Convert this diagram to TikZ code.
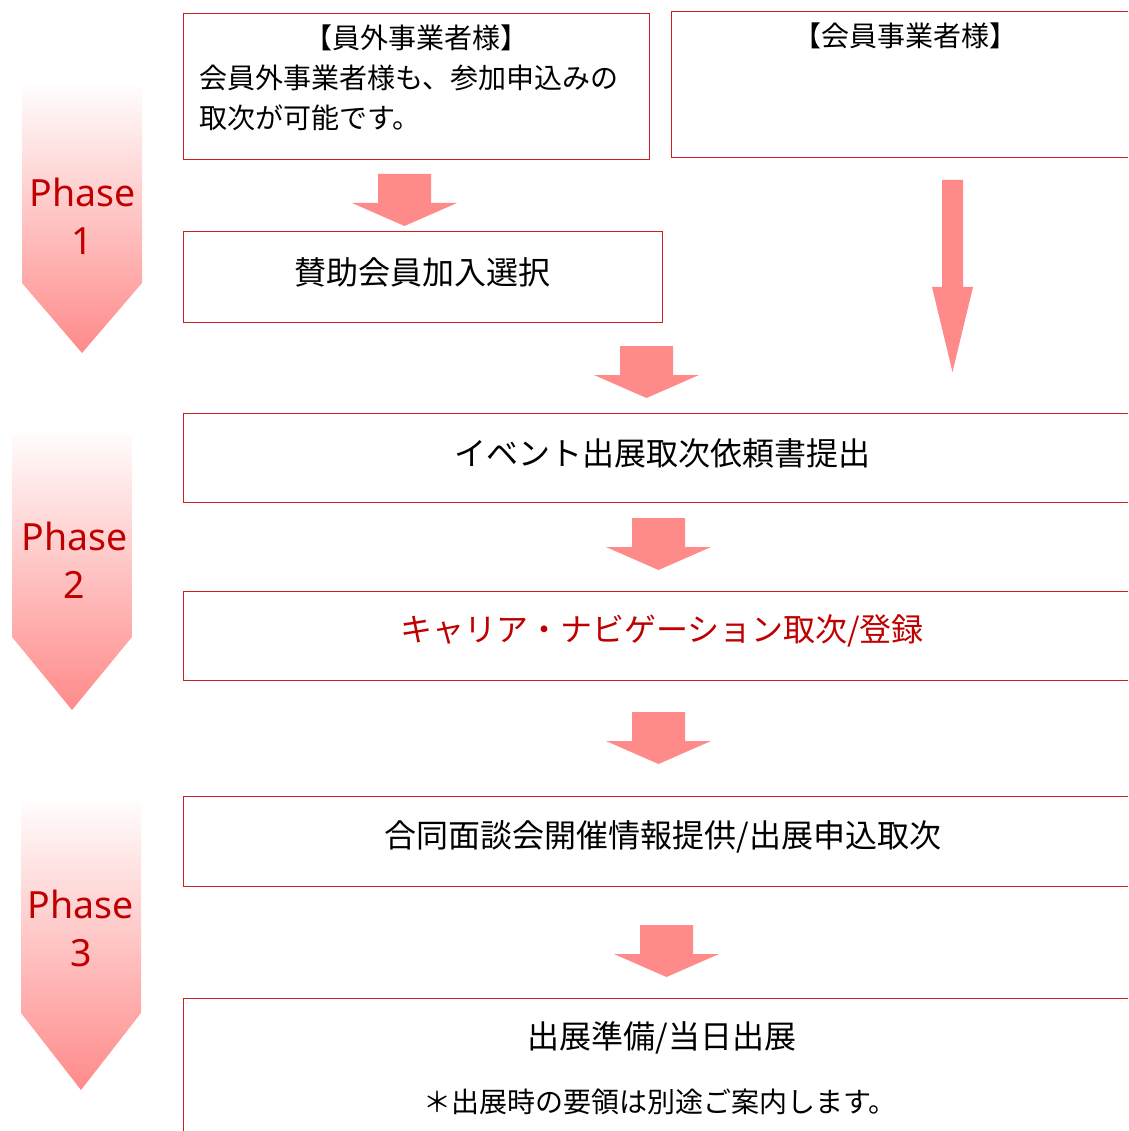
\documentclass[tikz,border=0pt]{standalone}
\usepackage{fontspec}
\setmainfont{Noto Sans CJK JP}
\newfontfamily\phasefont{Noto Sans}
\definecolor{apink}{HTML}{FF8A8A}
\definecolor{boxred}{RGB}{208,28,28}
\definecolor{txtred}{RGB}{192,0,0}
\tikzset{
  flowbox/.style={draw=boxred, line width=1pt, inner sep=0pt, rectangle},
  boxtext/.style={inner sep=0pt, font=\fontsize{32}{38}\selectfont},
  smalltext/.style={inner sep=0pt, font=\fontsize{28}{34}\selectfont},
  phasetext/.style={inner sep=0pt, align=center, text=txtred, font=\phasefont\fontsize{37.5}{48}\selectfont},
}
% block arrow: cx, shaft half width, head half width, ytop, yhead, ytip
\newcommand{\blockarr}[6]{%
  \fill[apink] ({#1-#2},#4) -- ({#1+#2},#4) -- ({#1+#2},#5) -- ({#1+#3},#5)
    -- (#1,#6) -- ({#1-#3},#5) -- ({#1-#2},#5) -- cycle;}
% phase arrow: xl, xr, ytop, yshoulder, ytip
\newcommand{\phasearr}[5]{%
  \shade[top color=white, bottom color=apink] (#1,#3) -- (#2,#3) -- (#2,#4)
    -- ({(#1+#2)/2},#5) -- (#1,#4) -- cycle;}
\begin{document}
\begin{tikzpicture}[x=1pt, y=-1pt]
\useasboundingbox (0,0) rectangle (1128,1131);
\clip (0,0) rectangle (1128,1131);

% phase arrows
\phasearr{22}{142}{80}{283}{353}
\phasearr{12}{132}{427}{637}{710}
\phasearr{21}{141}{795}{1013}{1090}
\node[phasetext] (ph1) at (82.5,216) {Phase\\1};
\node[phasetext] (ph2) at (74.5,560) {Phase\\2};
\node[phasetext] (ph3) at (81,928) {Phase\\3};

% boxes
\node[flowbox, minimum width=466pt, minimum height=146pt] (boxA) at (416,87) {};
\node[flowbox, minimum width=468pt, minimum height=146pt] (boxB) at (905,85) {};
\node[flowbox, minimum width=479pt, minimum height=90pt] (boxC) at (422.5,277) {};
\node[flowbox, minimum width=958pt, minimum height=89pt] (boxD) at (662,457.5) {};
\node[flowbox, minimum width=958pt, minimum height=89pt] (boxE) at (662,635.5) {};
\node[flowbox, minimum width=958pt, minimum height=90pt] (boxF) at (662,841) {};
\node[flowbox, minimum width=958pt, minimum height=150pt] (boxG) at (662,1073) {};

% texts
\node[smalltext] (tA1) at (416,38) {【員外事業者様】};
\node[smalltext, anchor=west] (tA2) at (199,78) {会員外事業者様も、参加申込みの};
\node[smalltext, anchor=west] (tA3) at (199,118) {取次が可能です。};
\node[smalltext] (tB1) at (905,36) {【会員事業者様】};
\node[boxtext] (tC) at (422,272) {賛助会員加入選択};
\node[boxtext] (tD) at (662,453) {イベント出展取次依頼書提出};
\node[boxtext, text=txtred] (tE) at (662,631) {キャリア・ナビゲーション取次/登録};
\node[boxtext] (tF) at (663,837) {合同面談会開催情報提供/出展申込取次};
\node[boxtext] (tG1) at (662,1038) {出展準備/当日出展};
\node[smalltext] (tG2) at (660,1102) {＊出展時の要領は別途ご案内します。};

% block arrows
\blockarr{404.5}{26.5}{52.5}{174}{203}{226}
\blockarr{646.5}{26.5}{52.5}{346}{375}{398}
\blockarr{952.5}{10.5}{20.5}{180}{287}{372}
\blockarr{658.5}{26.5}{52.5}{518}{547}{570}
\blockarr{658.5}{26.5}{52.5}{712}{741}{764}
\blockarr{666.5}{26.5}{52.5}{925}{954}{977}
\end{tikzpicture}
\end{document}
